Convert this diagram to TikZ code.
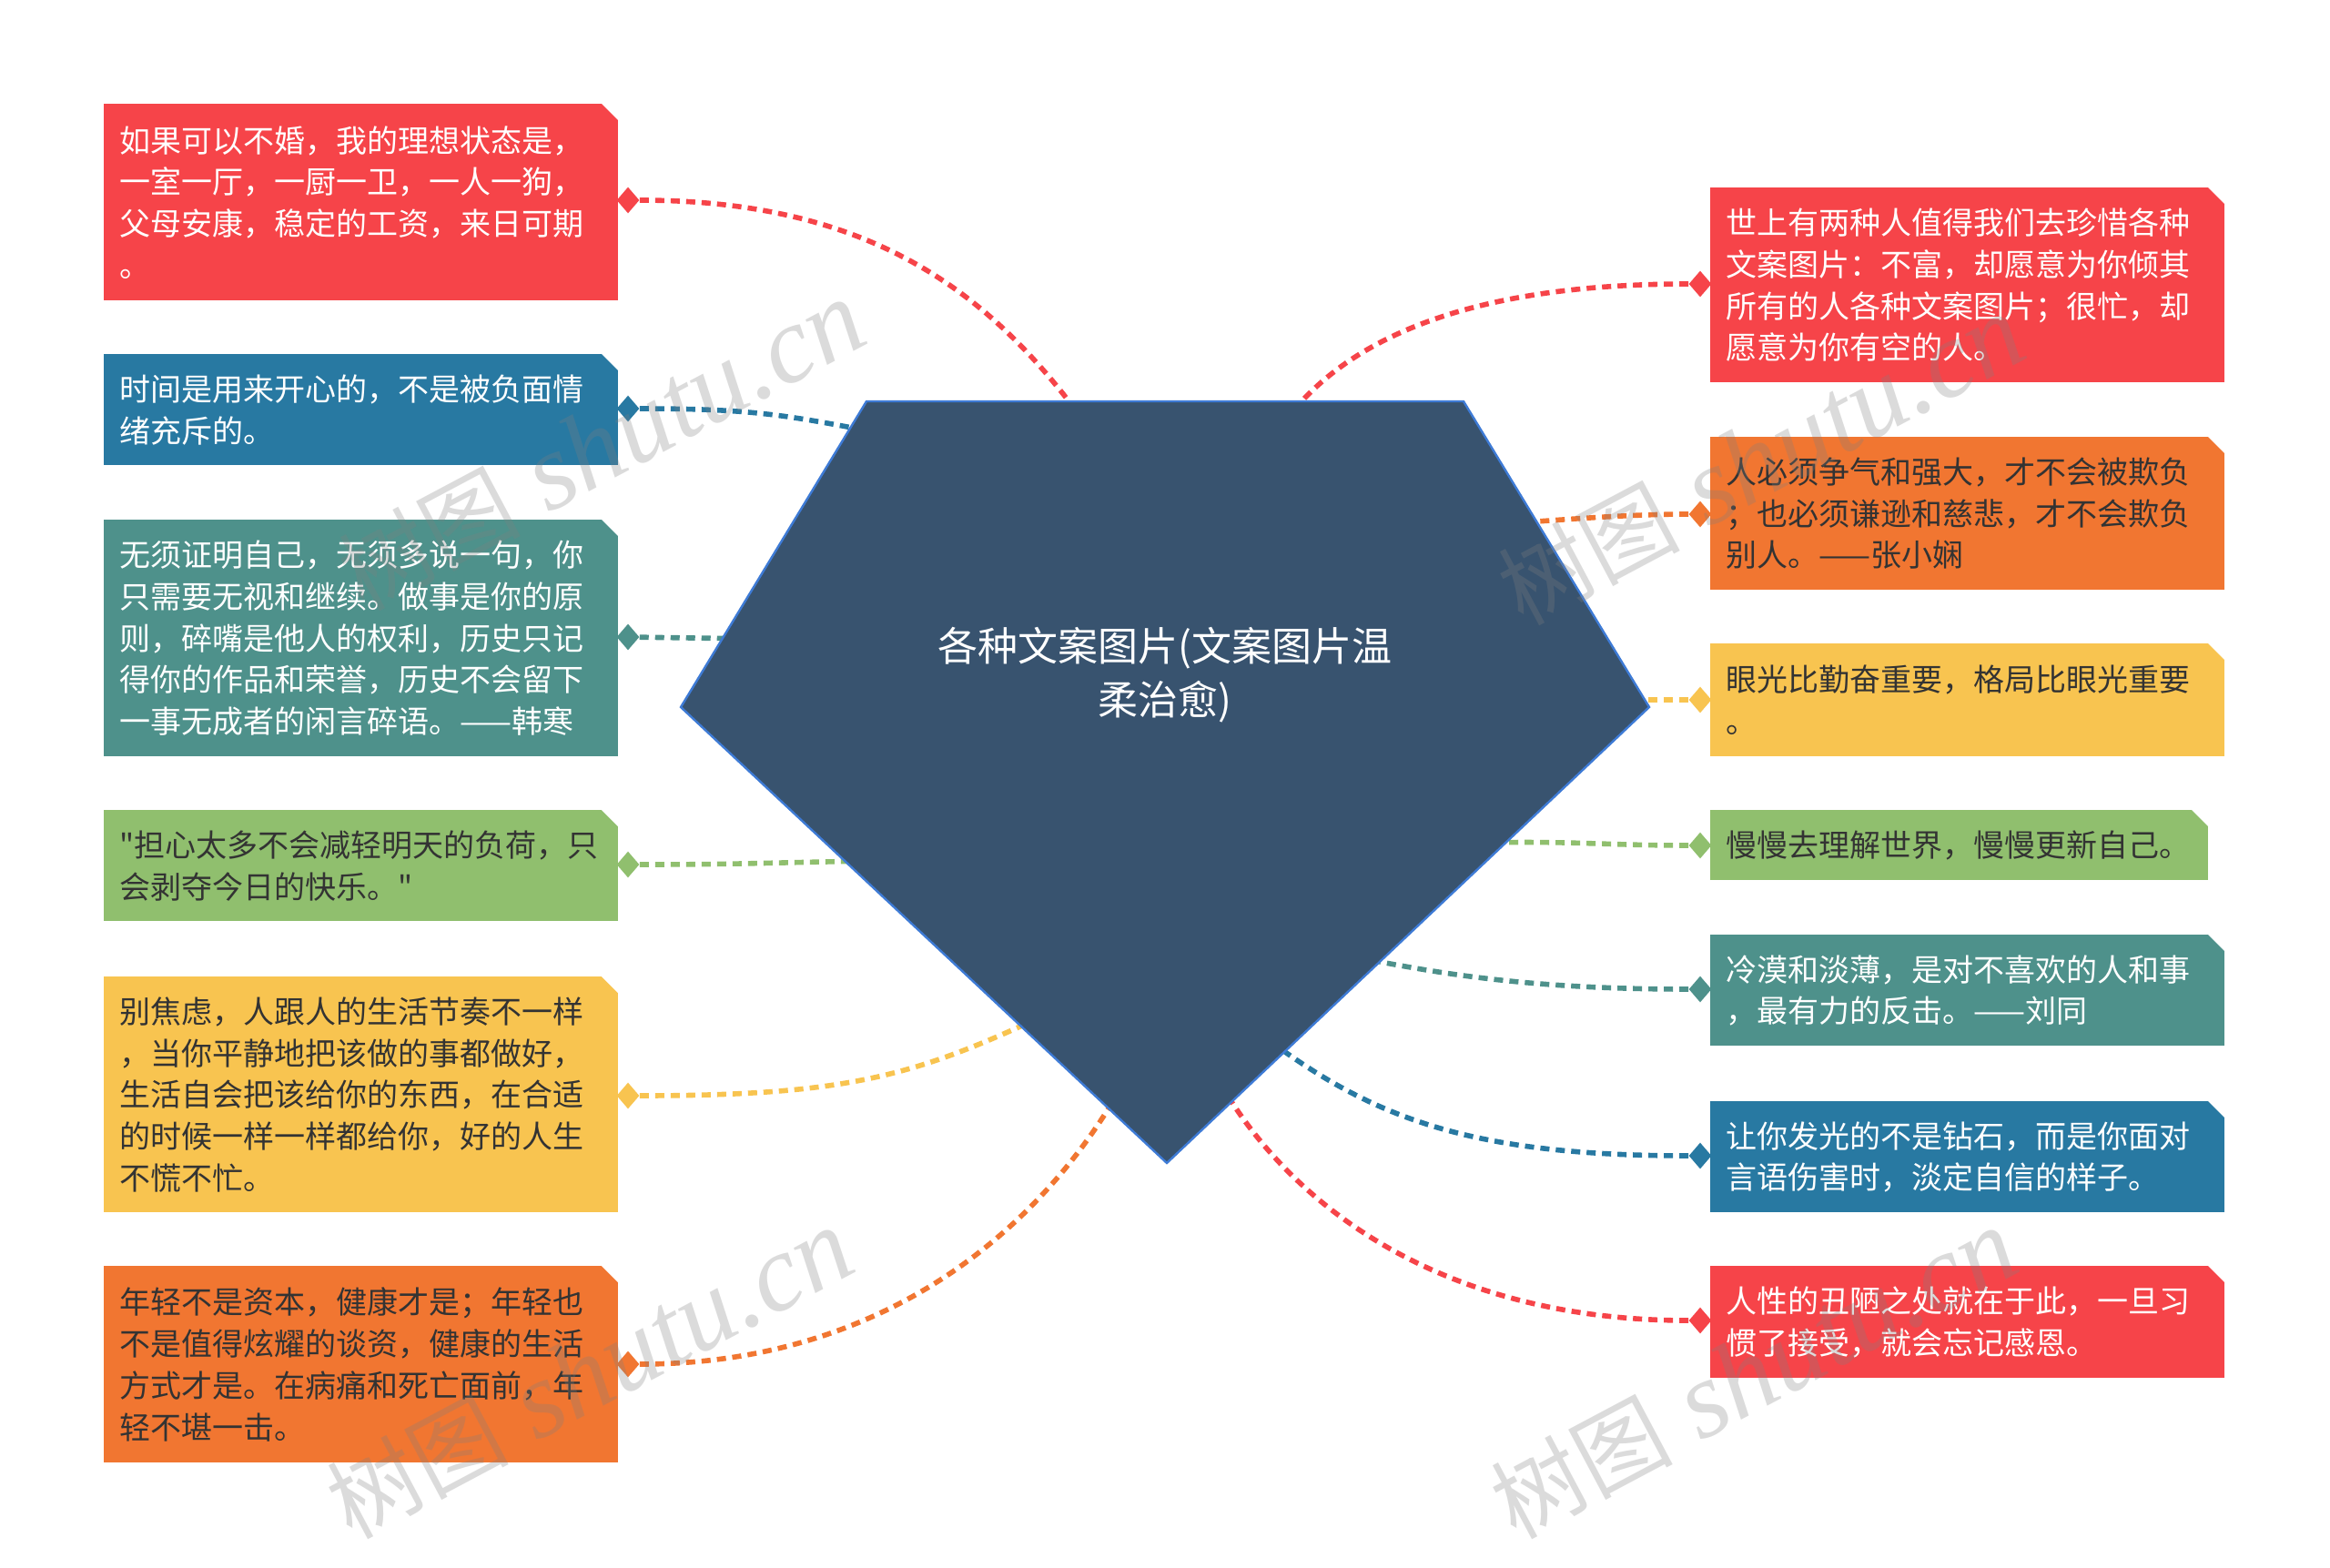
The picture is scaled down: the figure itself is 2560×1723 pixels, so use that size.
\documentclass[tikz,border=0pt]{standalone}
\usepackage{fontspec}
\newfontfamily\cjk{Noto Sans CJK SC}
\newfontfamily\wmserif{Liberation Serif}
\usetikzlibrary{shapes.geometric}
\definecolor{cred}{HTML}{F64449}
\definecolor{cblue}{HTML}{2879A2}
\definecolor{cteal}{HTML}{4E918B}
\definecolor{cgreen}{HTML}{90BF6E}
\definecolor{cyellow}{HTML}{F8C450}
\definecolor{corange}{HTML}{F17631}
\definecolor{cnavy}{HTML}{38536F}
\definecolor{cborder}{HTML}{3E7BD6}
\definecolor{cdark}{HTML}{333333}
\begin{document}
\begin{tikzpicture}[x=0.5pt,y=-0.5pt,
  box/.style={anchor=north west, inner xsep=8.5pt, inner ysep=0pt,
    minimum width=282.5pt, text width=265.5pt, align=left,
    font=\cjk\fontsize{17pt}{22.85pt}\selectfont},
  dia/.style={diamond, minimum width=12.5pt, minimum height=14.5pt, inner sep=0pt},
  conn/.style={line width=2.8pt, dash pattern=on 5pt off 3.5pt},
  wm/.style={text=gray, text opacity=0.28, rotate=28,
    font=\wmserif\itshape\fontsize{60pt}{60pt}\selectfont}
]
\fill[white] (0,0) rectangle (2560,1723);
\useasboundingbox (0,0) rectangle (2560,1723);

% ---- left boxes
\node[box, fill=cred, text=white, minimum height=108pt] (L1) at (114,114)
  {如果可以不婚，我的理想状态是，\\一室一厅，一厨一卫，一人一狗，\\父母安康，稳定的工资，来日可期\\。};
\node[box, fill=cblue, text=white, minimum height=61pt] (L2) at (114,389)
  {时间是用来开心的，不是被负面情\\绪充斥的。};
\node[box, fill=cteal, text=white, minimum height=130pt] (L3) at (114,571)
  {无须证明自己，无须多说一句，你\\只需要无视和继续。做事是你的原\\则，碎嘴是他人的权利，历史只记\\得你的作品和荣誉，历史不会留下\\一事无成者的闲言碎语。——韩寒};
\node[box, fill=cgreen, text=cdark, minimum height=61pt] (L4) at (114,890)
  {"担心太多不会减轻明天的负荷，只\\会剥夺今日的快乐。"};
\node[box, fill=cyellow, text=cdark, minimum height=129.5pt] (L5) at (114,1073)
  {别焦虑，人跟人的生活节奏不一样\\，当你平静地把该做的事都做好，\\生活自会把该给你的东西，在合适\\的时候一样一样都给你，好的人生\\不慌不忙。};
\node[box, fill=corange, text=cdark, minimum height=108pt] (L6) at (114,1391)
  {年轻不是资本，健康才是；年轻也\\不是值得炫耀的谈资，健康的生活\\方式才是。在病痛和死亡面前，年\\轻不堪一击。};

% ---- right boxes
\node[box, fill=cred, text=white, minimum height=107pt] (R1) at (1879,206)
  {世上有两种人值得我们去珍惜各种\\文案图片：不富，却愿意为你倾其\\所有的人各种文案图片；很忙，却\\愿意为你有空的人。};
\node[box, fill=corange, text=cdark, minimum height=84pt] (R2) at (1879,480)
  {人必须争气和强大，才不会被欺负\\；也必须谦逊和慈悲，才不会欺负\\别人。——张小娴};
\node[box, fill=cyellow, text=cdark, minimum height=62pt] (R3) at (1879,707)
  {眼光比勤奋重要，格局比眼光重要\\。};
\node[box, fill=cgreen, text=cdark, minimum height=38.5pt, minimum width=273.5pt, text width=256.5pt] (R4) at (1879,890)
  {慢慢去理解世界，慢慢更新自己。};
\node[box, fill=cteal, text=white, minimum height=61pt] (R5) at (1879,1027)
  {冷漠和淡薄，是对不喜欢的人和事\\，最有力的反击。——刘同};
\node[box, fill=cblue, text=white, minimum height=61pt] (R6) at (1879,1210)
  {让你发光的不是钻石，而是你面对\\言语伤害时，淡定自信的样子。};
\node[box, fill=cred, text=white, minimum height=61.5pt] (R7) at (1879,1391)
  {人性的丑陋之处就在于此，一旦习\\惯了接受，就会忘记感恩。};

% chamfered corners
\foreach \b in {L1,L2,L3,L4,L5,L6,R1,R2,R3,R4,R5,R6,R7}{
  \fill[white] ([xshift=-10pt,yshift=0.6pt]\b.north east) -- ([xshift=0.6pt,yshift=0.6pt]\b.north east)
    -- ([xshift=0.6pt,yshift=-10pt]\b.north east) -- cycle;
}

% ---- diamonds
\node[dia, fill=cred]    (dL1) at (690,220) {};
\node[dia, fill=cblue]   (dL2) at (690,449) {};
\node[dia, fill=cteal]   (dL3) at (690,700) {};
\node[dia, fill=cgreen]  (dL4) at (690,950) {};
\node[dia, fill=cyellow] (dL5) at (690,1204) {};
\node[dia, fill=corange] (dL6) at (690,1499) {};
\node[dia, fill=cred]    (dR1) at (1868,312) {};
\node[dia, fill=corange] (dR2) at (1868,565) {};
\node[dia, fill=cyellow] (dR3) at (1868,769) {};
\node[dia, fill=cgreen]  (dR4) at (1868,929) {};
\node[dia, fill=cteal]   (dR5) at (1868,1087) {};
\node[dia, fill=cblue]   (dR6) at (1868,1270) {};
\node[dia, fill=cred]    (dR7) at (1868,1451) {};

% ---- connector ends (inside the central shape)
\coordinate (eL1) at (1230,520);
\coordinate (eL2) at (990,480);
\coordinate (eL3) at (830,702);
\coordinate (eL4) at (960,946);
\coordinate (eL5) at (1160,1110);
\coordinate (eL6) at (1240,1180);
\coordinate (eR1) at (1400,480);
\coordinate (eR2) at (1660,575);
\coordinate (eR3) at (1790,769);
\coordinate (eR4) at (1630,926);
\coordinate (eR5) at (1490,1052);
\coordinate (eR6) at (1390,1140);
\coordinate (eR7) at (1335,1180);

\draw[conn, cred]    (dL1) .. controls +(300,0) and +(-110,-170) .. (eL1);
\draw[conn, cblue]   (dL2) .. controls +(150,0) and +(-120,-22) .. (eL2);
\draw[conn, cteal]   (dL3) -- (eL3);
\draw[conn, cgreen]  (dL4) .. controls +(120,0) and +(-120,2) .. (eL4);
\draw[conn, cyellow] (dL5) .. controls +(250,0) and +(-150,70) .. (eL5);
\draw[conn, corange] (dL6) .. controls +(300,0) and +(-80,150) .. (eL6);
\draw[conn, cred]    (dR1) .. controls +(-250,0) and +(70,-110) .. (eR1);
\draw[conn, corange] (dR2) .. controls +(-80,0) and +(60,-4) .. (eR2);
\draw[conn, cyellow] (dR3) -- (eR3);
\draw[conn, cgreen]  (dR4) .. controls +(-100,0) and +(100,-2) .. (eR4);
\draw[conn, cteal]   (dR5) .. controls +(-200,0) and +(80,15) .. (eR5);
\draw[conn, cblue]   (dR6) .. controls +(-250,0) and +(120,90) .. (eR6);
\draw[conn, cred]    (dR7) .. controls +(-300,0) and +(70,130) .. (eR7);

% ---- central pentagon
\filldraw[fill=cnavy, draw=cborder, line width=1.2pt]
  (952,441) -- (1608,441) -- (1812,777) -- (1282,1278) -- (748,777) -- cycle;
\node[font=\cjk\fontsize{22pt}{29.5pt}\selectfont, text=white, align=center] (C) at (1280,742)
  {各种文案图片(文案图片温\\柔治愈)};

% ---- watermarks
\node[wm] (w1) at (661,490) {{\cjk\fontsize{50pt}{50pt}\selectfont 树图} shutu.cn};
\node[wm] (w2) at (1935,506) {{\cjk\fontsize{50pt}{50pt}\selectfont 树图} shutu.cn};
\node[wm] (w3) at (648,1510) {{\cjk\fontsize{50pt}{50pt}\selectfont 树图} shutu.cn};
\node[wm] (w4) at (1927,1510) {{\cjk\fontsize{50pt}{50pt}\selectfont 树图} shutu.cn};
\end{tikzpicture}
\end{document}
